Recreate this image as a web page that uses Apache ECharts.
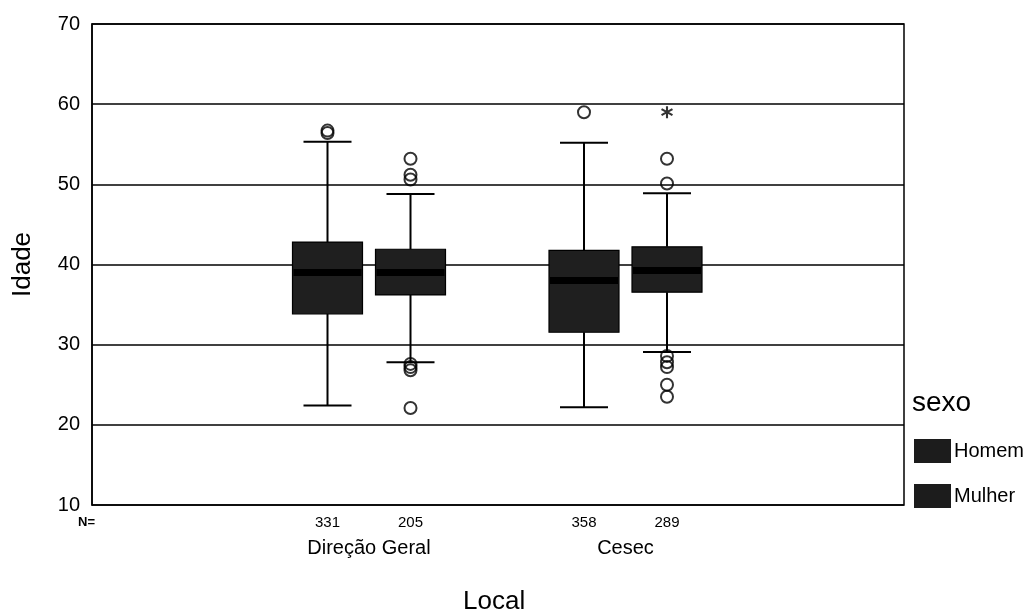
<!DOCTYPE html>
<html>
<head>
<meta charset="utf-8">
<title>Idade por Local e sexo</title>
<script src="https://cdn.jsdelivr.net/npm/echarts@6/dist/echarts.min.js"></script>
<style>
  html, body { margin: 0; padding: 0; background: #fff; }
  #chart { width: 1031px; height: 613px; }
</style>
</head>
<body>
<div id="chart"></div>
<script>
// Categories (Local) and groups (sexo)
const locais = ['Direção Geral', 'Cesec'];
const sexos = ['Homem', 'Mulher'];

// Box statistics per local: [min whisker, Q1, median, Q3, max whisker]
const homemStats = [
  [22.4, 33.85, 39.0, 42.8, 55.3],
  [22.2, 31.55, 38.0, 41.75, 55.2]
];
const mulherStats = [
  [27.8, 36.2, 39.0, 41.9, 48.8],
  [29.1, 36.55, 39.25, 42.2, 48.9]
];

// Sample sizes (N=)
const homemN = [331, 358];
const mulherN = [205, 289];

// Outliers (circles) per local
const homemOutliers = [
  [56.4, 56.7],
  [59.0]
];
const mulherOutliers = [
  [53.2, 51.2, 50.6, 27.6, 27.2, 26.8, 22.1],
  [53.2, 50.1, 28.6, 27.8, 27.2, 25.0, 23.5]
];
// Extreme values (asterisk) per local
const mulherExtremes = [
  [],
  [59.0]
];

// Y axis range and ticks
const yMin = 10, yMax = 70, yStep = 10;

const FONT = 'Liberation Sans, Arial, sans-serif';
const TEXT_COLOR = '#000';
const BOX_FILL = '#1f1f1f';
const BOX_WIDTH = 70;
const CAP_WIDTH = 48;
const GROUP_OFFSET = 41.5;

function boxData(stats, counts) {
  return stats.map((s, i) => [i].concat(s, [counts[i]]));
}
function pointData(lists) {
  const out = [];
  lists.forEach((vals, i) => vals.forEach(v => out.push([i, v])));
  return out;
}

function makeBoxRender(offset) {
  return function (params, api) {
    const idx = api.value(0);
    const pMin = api.coord([idx, api.value(1)]);
    const pQ1 = api.coord([idx, api.value(2)]);
    const pMed = api.coord([idx, api.value(3)]);
    const pQ3 = api.coord([idx, api.value(4)]);
    const pMax = api.coord([idx, api.value(5)]);
    const pBase = api.coord([idx, yMin]);
    const cx = pMed[0] + offset;
    const half = BOX_WIDTH / 2, capHalf = CAP_WIDTH / 2;
    const line = { stroke: '#000', lineWidth: 2 };
    return {
      type: 'group',
      children: [
        { type: 'line', shape: { x1: cx, y1: pMax[1], x2: cx, y2: pQ3[1] }, style: line },
        { type: 'line', shape: { x1: cx, y1: pQ1[1], x2: cx, y2: pMin[1] }, style: line },
        { type: 'line', shape: { x1: cx - capHalf, y1: pMax[1], x2: cx + capHalf, y2: pMax[1] }, style: line },
        { type: 'line', shape: { x1: cx - capHalf, y1: pMin[1], x2: cx + capHalf, y2: pMin[1] }, style: line },
        {
          type: 'rect',
          shape: { x: cx - half, y: pQ3[1], width: BOX_WIDTH, height: pQ1[1] - pQ3[1] },
          style: { fill: BOX_FILL, stroke: '#000', lineWidth: 1.2 }
        },
        {
          type: 'line',
          shape: { x1: cx - half + 1, y1: pMed[1], x2: cx + half - 1, y2: pMed[1] },
          style: { stroke: '#000', lineWidth: 7 }
        },
        {
          type: 'text',
          x: cx, y: pBase[1] + 18,
          style: {
            text: String(api.value(6)),
            fill: TEXT_COLOR, font: '15px ' + FONT,
            align: 'center', verticalAlign: 'middle'
          }
        }
      ]
    };
  };
}

// Six-armed asterisk used for extreme values
const starPath = 'path://M-1,-6L1,-6L1,6L-1,6Z' +
  'M-5.696,-2.134L-4.696,-3.866L5.696,2.134L4.696,3.866Z' +
  'M-4.696,3.866L-5.696,2.134L4.696,-3.866L5.696,-2.134Z';

const chart = echarts.init(document.getElementById('chart'), null, { renderer: 'canvas' });

const option = {
  backgroundColor: '#ffffff',
  animation: false,
  textStyle: { fontFamily: FONT },
  grid: [
    { left: 92, right: 127, top: 24, bottom: 108, show: true, borderColor: '#000', borderWidth: 1.5, backgroundColor: 'transparent' },
    { left: 240.75, right: 277.25, top: 24, bottom: 108 }
  ],
  xAxis: [
    { gridIndex: 0, type: 'value', min: 0, max: 1, show: false },
    {
      gridIndex: 1, type: 'category', data: locais,
      axisLine: { show: false }, axisTick: { show: false },
      splitLine: { show: false },
      axisLabel: { color: TEXT_COLOR, fontSize: 20, fontFamily: FONT, margin: 33 }
    }
  ],
  yAxis: [
    {
      gridIndex: 0, type: 'value', min: yMin, max: yMax, interval: yStep,
      axisLine: { show: true, lineStyle: { color: '#000', width: 1.5 } },
      axisTick: { show: false },
      axisLabel: { color: TEXT_COLOR, fontSize: 20, fontFamily: FONT, margin: 12 },
      splitLine: { show: true, lineStyle: { color: '#000', width: 1.5 } }
    },
    { gridIndex: 1, type: 'value', min: yMin, max: yMax, show: false }
  ],
  legend: {
    data: sexos,
    orient: 'vertical',
    left: 914, top: 439, padding: 0,
    icon: 'rect', itemWidth: 37, itemHeight: 24, itemGap: 21,
    textStyle: { color: TEXT_COLOR, fontSize: 20, fontFamily: FONT, padding: [0, 0, 0, -2] },
    selectedMode: false
  },
  graphic: [
    {
      type: 'text', rotation: Math.PI / 2,
      style: { text: 'Idade', font: '26px ' + FONT, fill: TEXT_COLOR },
      x: 10, y: 297
    },
    {
      type: 'text', left: 912, top: 389,
      style: { text: 'sexo', font: '28px ' + FONT, fill: TEXT_COLOR }
    },
    {
      type: 'text', left: 463, top: 589,
      style: { text: 'Local', font: '26px ' + FONT, fill: TEXT_COLOR }
    },
    {
      type: 'text', left: 78, top: 516,
      style: { text: 'N=', font: 'bold 13px ' + FONT, fill: TEXT_COLOR }
    }
  ],
  series: [
    {
      name: 'Homem', type: 'custom', xAxisIndex: 1, yAxisIndex: 1,
      renderItem: makeBoxRender(-GROUP_OFFSET),
      encode: { x: 0, y: [1, 2, 3, 4, 5] },
      itemStyle: { color: '#1c1c1c' },
      clip: false, z: 3,
      data: boxData(homemStats, homemN)
    },
    {
      name: 'Mulher', type: 'custom', xAxisIndex: 1, yAxisIndex: 1,
      renderItem: makeBoxRender(GROUP_OFFSET),
      encode: { x: 0, y: [1, 2, 3, 4, 5] },
      itemStyle: { color: '#1c1c1c' },
      clip: false, z: 3,
      data: boxData(mulherStats, mulherN)
    },
    {
      name: 'Homem outliers', type: 'scatter', xAxisIndex: 1, yAxisIndex: 1,
      symbol: 'circle', symbolSize: 12, symbolOffset: [-GROUP_OFFSET, 0],
      itemStyle: { color: 'rgba(0,0,0,0)', borderColor: '#000', borderWidth: 2 },
      z: 4, data: pointData(homemOutliers)
    },
    {
      name: 'Mulher outliers', type: 'scatter', xAxisIndex: 1, yAxisIndex: 1,
      symbol: 'circle', symbolSize: 12, symbolOffset: [GROUP_OFFSET, 0],
      itemStyle: { color: 'rgba(0,0,0,0)', borderColor: '#000', borderWidth: 2 },
      z: 4, data: pointData(mulherOutliers)
    },
    {
      name: 'Mulher extremos', type: 'scatter', xAxisIndex: 1, yAxisIndex: 1,
      symbol: starPath, symbolSize: [12, 12], symbolOffset: [GROUP_OFFSET, 0],
      itemStyle: { color: '#000' },
      z: 4, data: pointData(mulherExtremes)
    }
  ]
};

chart.setOption(option);
</script>
</body>
</html>
